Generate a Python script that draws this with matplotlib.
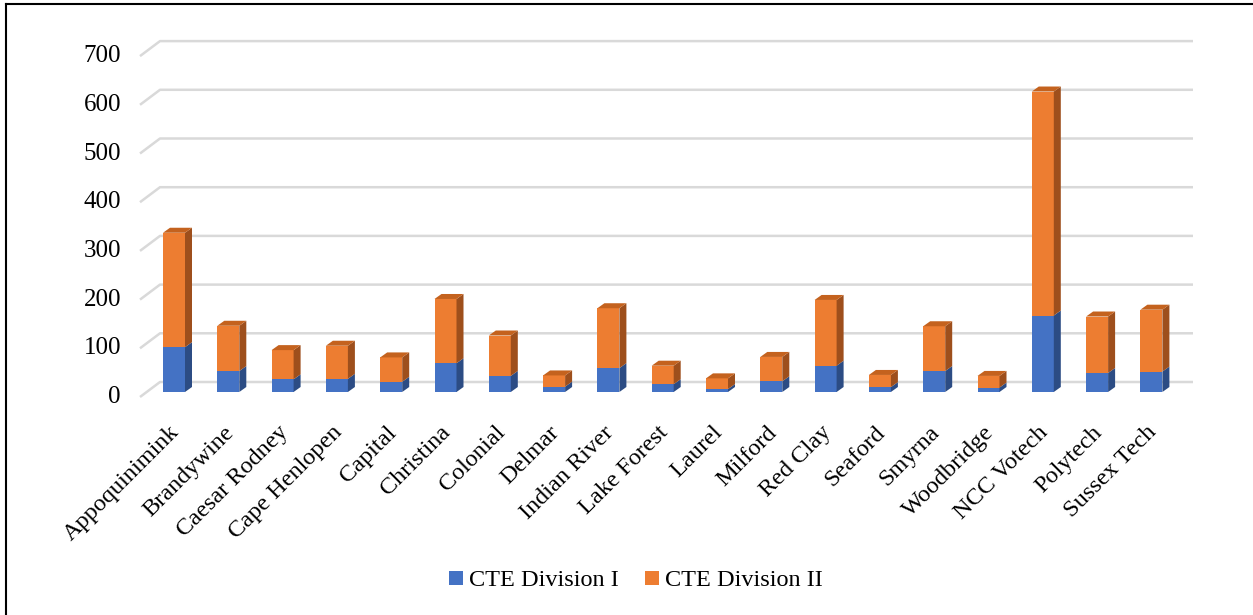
import matplotlib
matplotlib.use("Agg")
import matplotlib.pyplot as plt
from matplotlib.patches import Polygon
import numpy as np

plt.rcParams['font.family'] = ['Liberation Serif', 'DejaVu Serif']

districts = ["Appoquinimink", "Brandywine", "Caesar Rodney", "Cape Henlopen", "Capital",
             "Christina", "Colonial", "Delmar", "Indian River", "Lake Forest", "Laurel",
             "Milford", "Red Clay", "Seaford", "Smyrna", "Woodbridge", "NCC Votech",
             "Polytech", "Sussex Tech"]
div1 = [92, 43, 26, 27, 21, 59, 33, 11, 49, 16, 6, 22, 54, 10, 43, 9, 157, 39, 42]
totals = [327, 136, 86, 95, 71, 191, 116, 34, 172, 54, 28, 72, 189, 35, 135, 33, 617, 155, 169]
div2 = [t - a for t, a in zip(totals, div1)]
yticks = [0, 100, 200, 300, 400, 500, 600, 700]
series_names = ["CTE Division I", "CTE Division II"]

W, H = 1253, 615
fig = plt.figure(figsize=(W / 100, H / 100), dpi=100)
ax = fig.add_axes([0, 0, 1, 1])

PX_CAT = 54.3      # pixels per category
PX_UNIT = 0.487    # pixels per value unit
X0, Y0 = 174, 392  # pixel of category 0 centre / value 0 (front plane)
ax.set_xlim((0 - X0) / PX_CAT, (W - X0) / PX_CAT)
ax.set_ylim((Y0 - H) / PX_UNIT, Y0 / PX_UNIT)
ax.axis("off")

bw = 22 / PX_CAT
ddx = 7 / PX_CAT
ddy = 5 / PX_UNIT
wall_x0 = (160 - X0) / PX_CAT
front_x0 = (140 - X0) / PX_CAT
wall_x1 = (1193 - X0) / PX_CAT
wall_dy = 10 / PX_UNIT
front_dy = -5 / PX_UNIT

FS = 18
grid_col = "#D9D9D9"
for v in yticks:
    ax.plot([front_x0, wall_x0, wall_x1], [v + front_dy, v + wall_dy, v + wall_dy],
            color=grid_col, lw=1.8, zorder=1, solid_capstyle="butt")
    ax.text((121 - X0) / PX_CAT, v + front_dy, str(v), ha="right", va="center",
            fontsize=FS, color="#000000")

x = np.arange(len(districts))
blue_f, blue_s = "#4472C4", "#2C4C84"
orng_f, orng_s, orng_t = "#ED7D31", "#9E4F1C", "#C4621E"

ax.bar(x, div1, width=bw, color=blue_f, zorder=3, label=series_names[0])
ax.bar(x, div2, width=bw, bottom=div1, color=orng_f, zorder=3, label=series_names[1])

for i in range(len(districts)):
    xr = x[i] + bw / 2
    xl = x[i] - bw / 2
    b = div1[i]
    t = totals[i]
    ax.add_patch(Polygon([(xr, 0), (xr + ddx, ddy), (xr + ddx, b + ddy), (xr, b)],
                         closed=True, color=blue_s, zorder=3, lw=0))
    ax.add_patch(Polygon([(xr, b), (xr + ddx, b + ddy), (xr + ddx, t + ddy), (xr, t)],
                         closed=True, color=orng_s, zorder=3, lw=0))
    ax.add_patch(Polygon([(xl, t), (xl + ddx, t + ddy), (xr + ddx, t + ddy), (xr, t)],
                         closed=True, color=orng_t, zorder=3, lw=0))
    ax.text(x[i] - 0.1, -30 / PX_UNIT, districts[i], rotation=45, rotation_mode="anchor",
            ha="right", va="top", fontsize=17.5)

leg = ax.legend(loc="center", bbox_to_anchor=(636 / W, 1 - 581 / H), ncol=2,
                frameon=False, fontsize=17.5, handlelength=0.55, handleheight=0.55,
                handletextpad=0.25, columnspacing=1.1)

fig.add_artist(plt.Line2D([6 / W, 6 / W], [0, 1 - 4 / H], transform=fig.transFigure,
                          color="black", lw=1.5))
fig.add_artist(plt.Line2D([6 / W, 1], [1 - 4 / H, 1 - 4 / H], transform=fig.transFigure,
                          color="black", lw=1.5))

fig.savefig("out.png", dpi=100)
